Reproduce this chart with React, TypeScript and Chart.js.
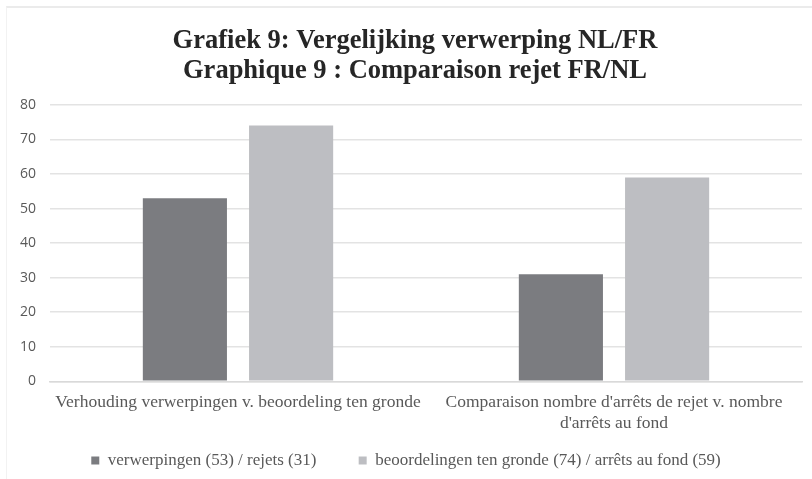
import React, { useEffect, useRef } from "react";
import { Chart, registerables } from "chart.js";

Chart.register(...registerables);

const titleLines = ["Grafiek 9: Vergelijking verwerping NL/FR", "Graphique 9 : Comparaison rejet FR/NL"];
const categories: (string | string[])[] = [
  "Verhouding verwerpingen v. beoordeling ten gronde",
  ["Comparaison nombre d'arrêts de rejet v. nombre", "d'arrêts au fond"],
];
const seriesNames = [
  "verwerpingen (53) / rejets (31)",
  "beoordelingen ten gronde (74) / arrêts au fond (59)",
];
const rejections = [53, 31];
const merits = [74, 59];
const yMin = 0;
const yMax = 80;
const yStep = 10;

const shiftTitle = {
  id: "shiftTitle",
  afterLayout(chart: any) {
    const t = chart.titleBlock;
    if (t) t.left += 18;
  },
};

export default function App() {
  const ref = useRef<HTMLCanvasElement | null>(null);

  useEffect(() => {
    if (!ref.current) return;
    const chart = new Chart(ref.current, {
      type: "bar",
      data: {
        labels: categories,
        datasets: [
          {
            label: seriesNames[0],
            data: rejections,
            backgroundColor: "#7b7c80",
            borderWidth: 0,
            categoryPercentage: 0.565,
            barPercentage: 0.792,
          },
          {
            label: seriesNames[1],
            data: merits,
            backgroundColor: "#bdbec2",
            borderWidth: 0,
            categoryPercentage: 0.565,
            barPercentage: 0.792,
          },
        ],
      },
      plugins: [shiftTitle],
      options: {
        animation: false,
        responsive: false,
        maintainAspectRatio: false,
        layout: { padding: { left: 10, right: 10, top: 0, bottom: 0 } },
        plugins: {
          title: {
            display: true,
            text: titleLines,
            color: "#262626",
            font: { family: "'Liberation Serif', serif", size: 26.5, weight: "bold", lineHeight: 1.13 },
            padding: { top: 26, bottom: 19 },
          },
          legend: {
            position: "bottom",
            labels: {
              color: "#595959",
              font: { family: "'Liberation Serif', serif", size: 17 },
              boxWidth: 8,
              boxHeight: 8,
              padding: 4,
              generateLabels: (c: any) => {
                const items = Chart.defaults.plugins.legend.labels.generateLabels(c);
                return items.map((it: any, i: number) => ({
                  ...it,
                  text: i === 0 ? it.text + "         " : it.text,
                }));
              },
            },
          },
          tooltip: { enabled: false },
        },
        scales: {
          x: {
            afterFit: (scale: any) => {
              scale.height += 12;
            },
            grid: { display: false },
            border: { display: true, color: "#d9d9d9", width: 1.5 },
            ticks: {
              color: "#595959",
              font: { family: "'Liberation Serif', serif", size: 17.5, lineHeight: 1.22 },
              padding: 2,
              maxRotation: 0,
              autoSkip: false,
            },
          },
          y: {
            min: yMin,
            max: yMax,
            afterFit: (scale: any) => {
              scale.width = 40;
            },
            grid: { color: "#e3e3e3", lineWidth: 1.5, drawTicks: false },
            border: { display: false },
            ticks: {
              stepSize: yStep,
              color: "#595959",
              font: { family: "'Open Sans', sans-serif", size: 14 },
              padding: 14,
            },
          },
        },
      },
    });
    return () => chart.destroy();
  }, []);

  return (
    <div style={{ position: "fixed", left: 0, top: 0, width: 812, height: 479, background: "#fff" }}>
      <div
        style={{
          position: "absolute",
          left: 6,
          top: 6,
          width: 806,
          height: 473,
          borderTop: "2px solid #ebebeb",
          borderLeft: "1px solid #f2f2f2",
          boxSizing: "border-box",
        }}
      />
      <canvas ref={ref} width={812} height={479} style={{ position: "absolute", left: 0, top: 0 }} />
    </div>
  );
}
